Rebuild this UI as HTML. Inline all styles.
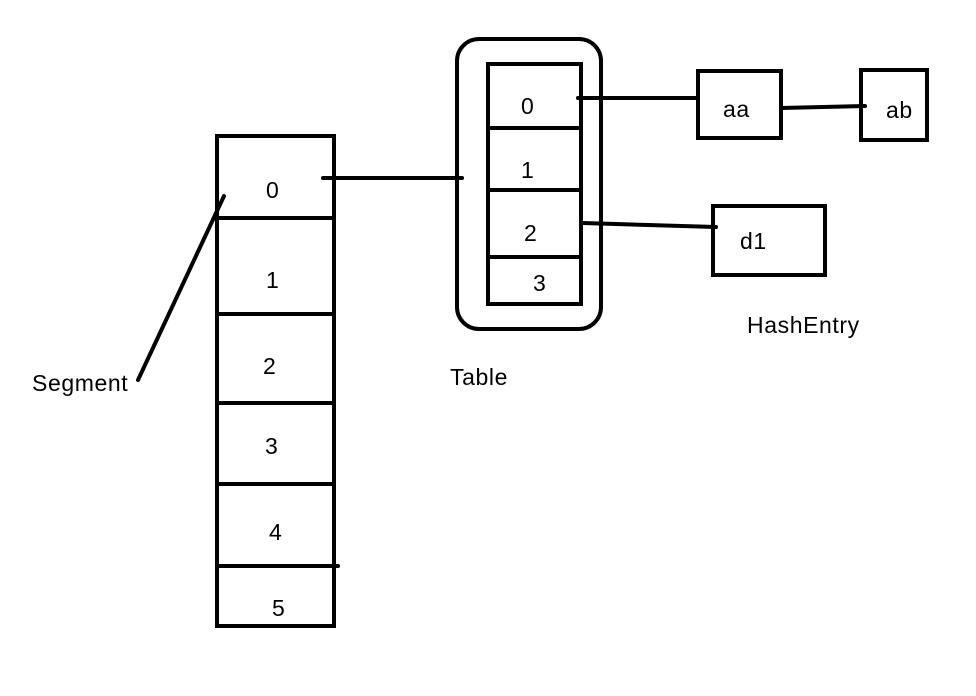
<!DOCTYPE html>
<html><head><meta charset="utf-8"><style>
html,body{margin:0;padding:0;background:#fff;width:976px;height:696px;overflow:hidden}
text{font-family:"Liberation Sans",sans-serif;font-size:23px;letter-spacing:0.6px;fill:#000}
</style></head><body>
<svg width="976" height="696" viewBox="0 0 976 696">
<g stroke="#000" stroke-width="4" fill="none" stroke-linecap="round">
  <rect x="217" y="136" width="117" height="490"/>
  <line x1="217" y1="218" x2="332" y2="218"/>
  <line x1="217" y1="314" x2="332" y2="314"/>
  <line x1="217" y1="403" x2="332" y2="403"/>
  <line x1="217" y1="484" x2="332" y2="484"/>
  <line x1="217" y1="566" x2="338" y2="566"/>
  <line x1="323" y1="178" x2="462" y2="178"/>
  <line x1="224" y1="196" x2="138" y2="380"/>
  <rect x="457" y="39" width="144" height="290" rx="22"/>
  <rect x="488" y="64" width="93" height="240"/>
  <line x1="488" y1="128" x2="581" y2="128"/>
  <line x1="488" y1="190" x2="581" y2="190"/>
  <line x1="488" y1="257" x2="581" y2="257"/>
  <line x1="578" y1="98" x2="697" y2="98"/>
  <rect x="698" y="71" width="83" height="67"/>
  <line x1="781" y1="108" x2="865" y2="106"/>
  <rect x="861" y="70" width="66" height="70"/>
  <line x1="583" y1="223" x2="716" y2="227"/>
  <rect x="713" y="206" width="112" height="69"/>
</g>
<g>
  <text x="266" y="198">0</text>
  <text x="266" y="288">1</text>
  <text x="263" y="374">2</text>
  <text x="265" y="454">3</text>
  <text x="269" y="540">4</text>
  <text x="272" y="616">5</text>
  <text x="521" y="114">0</text>
  <text x="521" y="178">1</text>
  <text x="524" y="241">2</text>
  <text x="533" y="291">3</text>
  <text x="723" y="117">aa</text>
  <text x="886" y="118">ab</text>
  <text x="740" y="249">d1</text>
  <text x="747" y="333">HashEntry</text>
  <text x="450" y="385">Table</text>
  <text x="32" y="391">Segment</text>
</g>
</svg>
</body></html>
